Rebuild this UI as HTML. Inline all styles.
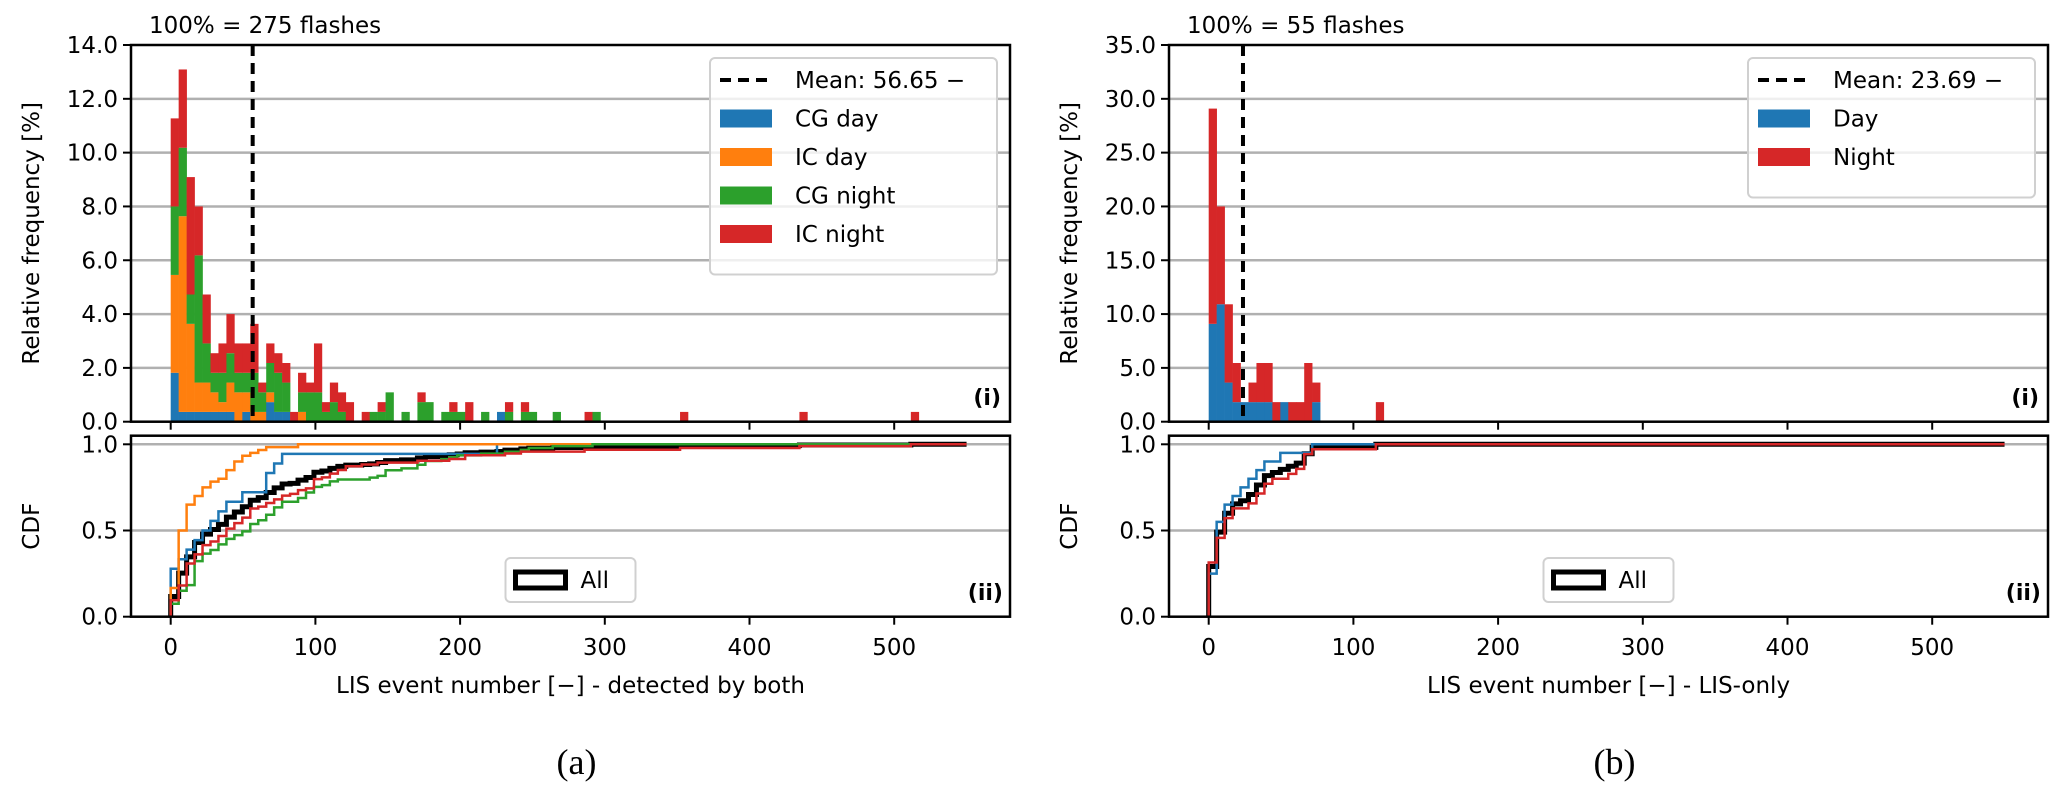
<!DOCTYPE html>
<html><head><meta charset="utf-8"><style>
html,body{margin:0;padding:0;background:#fff;}
svg{display:block;font-family:"DejaVu Sans","Liberation Sans",sans-serif;}
</style></head><body>
<svg id="fig" width="2067" height="801" viewBox="0 0 2067 801" xmlns="http://www.w3.org/2000/svg"></svg>
<script>
// ---- data (panel a: detected by both) ----
const binWidth = 5.5;
const histEnd = 550;
const flashesA = 275;
const meanA = 56.65;
const cgDay   = [5,1,1,1,1,1,1,1,0,1,0,0,2,1,1,0,0,0,0,0,0,0,0,0,0,0,0,0,0,0,0,0,0,0,0,0,0,0,0,0,0,1];
const icDay   = [10,20,9,3,3,2,1,3,3,2,1,1,1,0,0,0,1];
const cgNight = [7,7,3,13,4,2,3,3,2,2,4,2,3,4,3,0,2,3,3,1,2,1,0,0,0,1,1,3,0,1,0,2,2,0,1,1,1,0,0,1,0,0,1,0,1,1,0,0,1,0,0,0,0,1];
const icNight = [9,8,12,5,5,2,3,4,3,3,5,1,2,2,2,1,2,1,5,1,2,2,2,0,1,0,1,0,0,0,0,1,0,0,0,1,0,2,0,0,0,0,1,0,1,0,0,0,0,0,0,0,1,0,0,0,0,0,0,0,0,0,0,0,1,0,0,0,0,0,0,0,0,0,0,0,0,0,0,1,0,0,0,0,0,0,0,0,0,0,0,0,0,1];
// ---- data (panel b: LIS-only) ----
const flashesB = 55;
const meanB = 23.69;
const dayB   = [5,6,2,1,1,1,1,1,0,1,0,0,0,1];
const nightB = [11,5,4,2,0,1,2,2,1,0,1,1,3,1,0,0,0,0,0,0,0,1];
// ---- ticks ----
const xTicks = [0,100,200,300,400,500];
const yTicksA = [0,2,4,6,8,10,12,14];
const yTicksB = [0,5,10,15,20,25,30,35];
const cdfTicks = [0,0.5,1.0];

const NS = "http://www.w3.org/2000/svg";
const svg = document.getElementById('fig');
function mk(tag, attrs, parent){
  const e = document.createElementNS(NS, tag);
  for (const k in attrs) e.setAttribute(k, attrs[k]);
  (parent||svg).appendChild(e);
  return e;
}
const COL = {blue:'#1f77b4', orange:'#ff7f0e', green:'#2ca02c', red:'#d62728'};

function panel(p){
  const ax0 = p.ax0, ax1 = ax0 + 879;
  const hTop = 45, hBot = 421.7, cTop = 435.7, cBot = 616.7;
  const X = v => ax0 + 39.7 + v * 1.447;
  const YH = v => hBot - v * (hBot - hTop) / p.yMax;
  const YC = v => cBot - v * 172.4;
  const g = mk('g', {});
  
  

  p.yTicks.forEach(t => {
    if (t === 0 || t === p.yMax) return;
    const l = mk('line', {x1:ax0, x2:ax1, y1:YH(t), y2:YH(t), stroke:'#b0b0b0', 'stroke-width':2.5}, g);
    
    
  });
  const nb = Math.max(...p.series.map(s => s.counts.length));
  for (let i = 0; i < nb; i++) {
    let base = 0;
    p.series.forEach(s => {
      const c = s.counts[i] || 0;
      if (!c) return;
      const v0 = base * 100 / p.flashes, v1 = (base + c) * 100 / p.flashes;
      const r = mk('rect', {x:X(i*binWidth), y:YH(v1), width:X((i+1)*binWidth)-X(i*binWidth)+0.3, height:YH(v0)-YH(v1), fill:s.color}, g);
      
      
      base += c;
    });
  }
  const ml = mk('line', {x1:X(p.mean), x2:X(p.mean), y1:hTop, y2:hBot, stroke:'#000', 'stroke-width':4, 'stroke-dasharray':'11 7'}, g);
  
  
  const hf = mk('rect', {x:ax0, y:hTop, width:ax1-ax0, height:hBot-hTop, fill:'none', stroke:'#000', 'stroke-width':2.5}, g);
  
  
  p.yTicks.forEach(t => {
    const tk = mk('line', {x1:ax0-8, x2:ax0, y1:YH(t), y2:YH(t), stroke:'#000', 'stroke-width':2}, g);
    
    
    const tl = mk('text', {x:ax0-13, y:YH(t)+8, 'text-anchor':'end', 'font-size':23}, g);
    tl.textContent = t.toFixed(1);
    
    
  });
  xTicks.forEach(t => {
    const tk = mk('line', {x1:X(t), x2:X(t), y1:hBot, y2:hBot+8, stroke:'#000', 'stroke-width':2}, g);
    
    
  });
  const an = mk('text', {x:ax0+18, y:33, 'font-size':23}, g);
  an.textContent = '100% = ' + p.flashes + ' flashes';
  
  
  const yl = mk('text', {x:0, y:0, 'font-size':23, 'text-anchor':'middle', transform:'translate(' + (ax0-92) + ',' + ((hTop+hBot)/2) + ') rotate(-90)'}, g);
  yl.textContent = 'Relative frequency [%]';
  
  
  const cl = mk('text', {x:0, y:0, 'font-size':23, 'text-anchor':'middle', transform:'translate(' + (ax0-92) + ',' + ((cTop+cBot)/2) + ') rotate(-90)'}, g);
  cl.textContent = 'CDF';
  
  
  const pi = mk('text', {x:ax1-9, y:405, 'font-size':22, 'font-weight':'bold', 'text-anchor':'end'}, g);
  pi.textContent = '(i)';
  
  

  const rows = p.legend.length;
  const lx = ax1 - 300, ly = 58;
  const lb = mk('rect', {x:lx, y:ly, width:287, height:24 + rows*38.5, rx:5, fill:'#fff', 'fill-opacity':0.8, stroke:'#d0d0d0', 'stroke-width':2}, g);
  
  
  p.legend.forEach((it, i) => {
    const cy = ly + 22 + i*38.5;
    if (it.dash) {
      const h = mk('line', {x1:lx+10, x2:lx+62, y1:cy, y2:cy, stroke:'#000', 'stroke-width':4, 'stroke-dasharray':'11 7'}, g);
      
      
    } else {
      const h = mk('rect', {x:lx+10, y:cy-9, width:52, height:18, fill:it.color}, g);
      
      
    }
    const t = mk('text', {x:lx+85, y:cy+8, 'font-size':23}, g);
    t.textContent = it.label;
    
    
  });

  [0.5, 1.0].forEach(t => {
    const l = mk('line', {x1:ax0, x2:ax1, y1:YC(t), y2:YC(t), stroke:'#b0b0b0', 'stroke-width':2.5}, g);
    
    
  });
  function cdfPath(counts){
    const tot = counts.reduce((a,b)=>a+b,0);
    const nbins = Math.round(histEnd / binWidth);
    let cum = 0, d = 'M' + X(0) + ',' + YC(0);
    for (let i = 0; i < nbins; i++) {
      cum += counts[i] || 0;
      d += ' L' + X(i*binWidth) + ',' + YC(cum/tot) + ' L' + X((i+1)*binWidth) + ',' + YC(cum/tot);
    }
    return d;
  }
  const allCounts = [];
  for (let i = 0; i < nb; i++) allCounts.push(p.series.reduce((a,s)=>a+(s.counts[i]||0),0));
  const ab = mk('path', {d:cdfPath(allCounts), fill:'none', stroke:'#000', 'stroke-width':5}, g);
  
  
  p.series.forEach(s => {
    const pth = mk('path', {d:cdfPath(s.counts), fill:'none', stroke:s.color, 'stroke-width':2.5}, g);
    
    
  });
  const cf = mk('rect', {x:ax0, y:cTop, width:ax1-ax0, height:cBot-cTop, fill:'none', stroke:'#000', 'stroke-width':2.5}, g);
  
  
  cdfTicks.forEach(t => {
    const tk = mk('line', {x1:ax0-8, x2:ax0, y1:YC(t), y2:YC(t), stroke:'#000', 'stroke-width':2}, g);
    
    
    const tl = mk('text', {x:ax0-13, y:YC(t)+8, 'text-anchor':'end', 'font-size':23}, g);
    tl.textContent = t.toFixed(1);
    
    
  });
  xTicks.forEach(t => {
    const tk = mk('line', {x1:X(t), x2:X(t), y1:cBot, y2:cBot+8, stroke:'#000', 'stroke-width':2}, g);
    
    
    const tl = mk('text', {x:X(t), y:655, 'text-anchor':'middle', 'font-size':23}, g);
    tl.textContent = String(t);
    
    
  });
  const xl = mk('text', {x:(ax0+ax1)/2, y:693, 'text-anchor':'middle', 'font-size':23}, g);
  xl.textContent = p.xlabel;
  
  
  const pii = mk('text', {x:ax1-7, y:600, 'font-size':22, 'font-weight':'bold', 'text-anchor':'end'}, g);
  pii.textContent = '(ii)';
  
  
  const cx = (ax0+ax1)/2;
  const alb = mk('rect', {x:cx-65, y:558, width:130, height:44, rx:5, fill:'#fff', 'fill-opacity':0.8, stroke:'#d0d0d0', 'stroke-width':2}, g);
  
  
  const alh = mk('rect', {x:cx-55, y:572, width:50, height:16, fill:'none', stroke:'#000', 'stroke-width':5}, g);
  
  
  const alt = mk('text', {x:cx+10, y:588, 'font-size':23}, g);
  alt.textContent = 'All';
  
  
  const cap = mk('text', {x:(ax0+ax1)/2 + 6, y:774, 'text-anchor':'middle', 'font-size':36, 'font-family':'"Liberation Serif", serif'}, g);
  cap.textContent = p.caption;
  
  
}

panel({
  name:'panel-a', ax0:131, yMax:14, yTicks:yTicksA, flashes:flashesA, mean:meanA,
  series:[{key:'cg-day',counts:cgDay,color:COL.blue},{key:'ic-day',counts:icDay,color:COL.orange},
          {key:'cg-night',counts:cgNight,color:COL.green},{key:'ic-night',counts:icNight,color:COL.red}],
  legend:[{dash:true,label:'Mean: ' + meanA.toFixed(2) + ' \u2212'},{label:'CG day',color:COL.blue},{label:'IC day',color:COL.orange},
          {label:'CG night',color:COL.green},{label:'IC night',color:COL.red}],
  xlabel:'LIS event number [\u2212] - detected by both', caption:'(a)'
});
panel({
  name:'panel-b', ax0:1169, yMax:35, yTicks:yTicksB, flashes:flashesB, mean:meanB,
  series:[{key:'day',counts:dayB,color:COL.blue},{key:'night',counts:nightB,color:COL.red}],
  legend:[{dash:true,label:'Mean: ' + meanB.toFixed(2) + ' \u2212'},{label:'Day',color:COL.blue},{label:'Night',color:COL.red}],
  xlabel:'LIS event number [\u2212] - LIS-only', caption:'(b)'
});
</script>
</body></html>
